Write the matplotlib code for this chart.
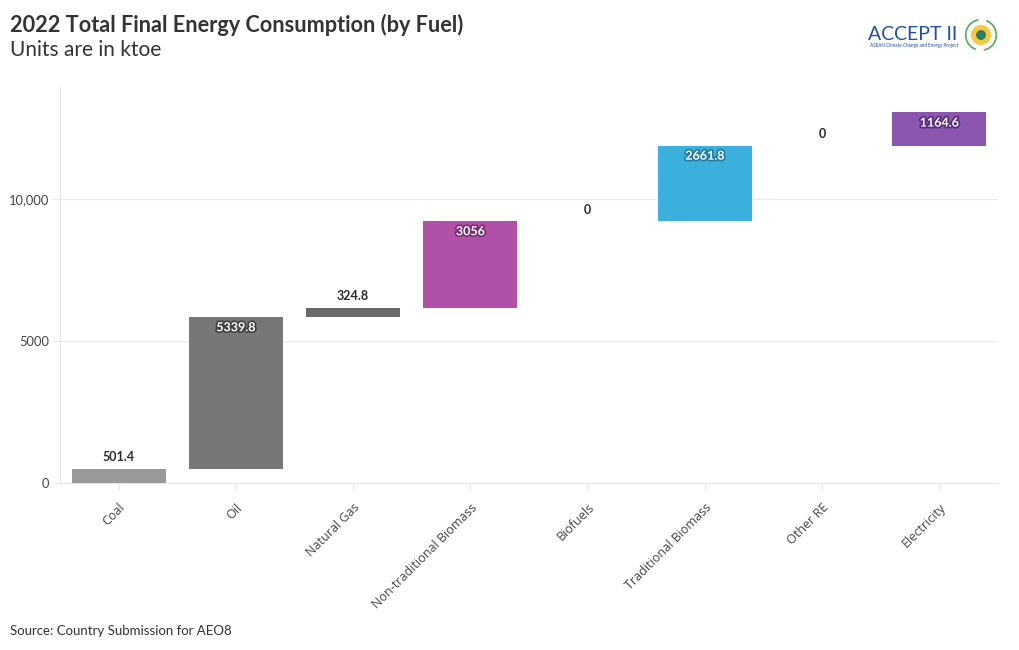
import matplotlib
matplotlib.use("Agg")
import matplotlib.pyplot as plt
import matplotlib.patheffects as pe
from matplotlib.patches import Circle, Arc
import numpy as np

categories = ["Coal", "Oil", "Natural Gas", "Non-traditional Biomass", "Biofuels",
              "Traditional Biomass", "Other RE", "Electricity"]
values = [501.4, 5339.8, 324.8, 3056, 0, 2661.8, 0, 1164.6]
value_labels = ["501.4", "5339.8", "324.8", "3056", "0", "2661.8", "0", "1164.6"]
colors = ["#999999", "#777777", "#6a6a6a", "#b150a7", "#b150a7", "#3cb0dc", "#3cb0dc", "#8c55b0"]
outline = ["#555555", "#444444", "#444444", "#7a2c73", "#7a2c73", "#1f7ea6", "#1f7ea6", "#5a2d7a"]
label_inside = [False, True, False, True, False, True, False, True]
yticks = [0, 5000, 10000]
ytick_labels = ["0", "5000", "10,000"]

plt.rcParams['font.family'] = ['Lato', 'DejaVu Sans']

fig = plt.figure(figsize=(10.2, 6.5), dpi=100)
ax = fig.add_axes([60/1020, 1-483/650, 938/1020, (483-87)/650])

x = np.arange(len(categories))
bottoms = np.concatenate([[0], np.cumsum(values)[:-1]])
tops = bottoms + np.array(values)
ax.bar(x, values, bottom=bottoms, width=0.8, color=colors, zorder=3)

for i in range(len(categories)):
    if label_inside[i]:
        ax.annotate(value_labels[i], (x[i], tops[i]), xytext=(0, -3), textcoords="offset points",
                    ha="center", va="top", fontsize=9, fontweight="bold", color="white", zorder=5,
                    path_effects=[pe.withStroke(linewidth=2.5, foreground=outline[i])])
    else:
        ax.annotate(value_labels[i], (x[i], tops[i]), xytext=(0, 4), textcoords="offset points",
                    ha="center", va="bottom", fontsize=9, fontweight="bold", color="#2a2a2a", zorder=5)

ax.set_xlim(-0.5, len(categories) - 0.5)
ax.set_ylim(0, 13944)
ax.set_yticks(yticks)
ax.set_yticklabels(ytick_labels, fontsize=9.3, color="#444444")
ax.set_xticks(x)
ax.set_xticklabels(categories, rotation=45, ha="right", rotation_mode="anchor",
                   fontsize=9, color="#444444", family=["Open Sans", "DejaVu Sans"])
ax.tick_params(axis="y", length=5, color="#e6e6e6", pad=2.5)
ax.tick_params(axis="x", length=5, color="#e6e6e6", pad=8)
ax.grid(axis="y", color="#ebebeb", linewidth=0.8, zorder=0)
for s in ["top", "right"]:
    ax.spines[s].set_visible(False)
ax.spines["bottom"].set_color("#e6e6e6")
ax.spines["left"].set_color("#e6e6e6")
ax.spines["bottom"].set_linewidth(0.8)
ax.spines["left"].set_linewidth(0.8)

fig.text(10/1020, 1-25/650, "2022 Total Final Energy Consumption (by Fuel)", fontsize=15.6,
         fontweight="bold", color="#333333", va="center", ha="left")
fig.text(10/1020, 1-50/650, "Units are in ktoe", fontsize=15, color="#333333", va="center", ha="left")
fig.text(10/1020, 1-631/650, "Source: Country Submission for AEO8", fontsize=9.5, color="#333333",
         va="center", ha="left")

# logo
fig.text(868/1020, 1-34/650, "ACCEPT II", fontsize=14, color="#1f4fa0", va="center", ha="left")
fig.text(870/1020, 1-46/650, "ASEAN Climate Change and Energy Project", fontsize=3.3, color="#1f4fa0",
         va="center", ha="left")
lax = fig.add_axes([964/1020, 1-52/650, 34/1020, 34/650])
lax.set_xlim(-1, 1); lax.set_ylim(-1, 1); lax.set_aspect("equal"); lax.axis("off")
lax.add_patch(Arc((0, 0), 1.8, 1.8, theta1=100, theta2=250, ec="#4caf50", lw=1.2))
lax.add_patch(Arc((0, 0), 1.8, 1.8, theta1=280, theta2=70, ec="#4caf50", lw=1.2))
lax.add_patch(Circle((0, 0), 0.55, color="#f6c945"))
lax.add_patch(Circle((0, 0), 0.25, color="#2e7d5b"))

fig.savefig("out.png", dpi=100)
